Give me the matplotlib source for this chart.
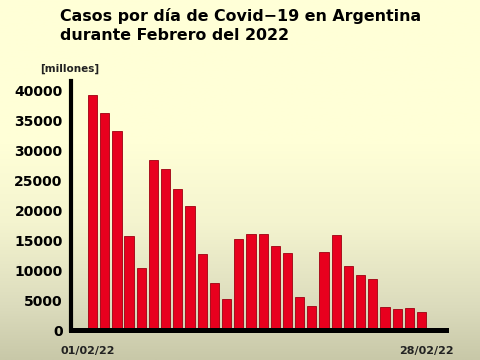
import numpy as np
import matplotlib
matplotlib.use("Agg")
from matplotlib import pyplot as plt
from matplotlib.colors import LinearSegmentedColormap
from matplotlib.transforms import ScaledTranslation

# Daily cases, February 2022
days = list(range(1, 29))
cases = [39300, 36300, 33300, 15700, 10400, 28400, 27000, 23600, 20800, 12800,
         8000, 5200, 15300, 16100, 16100, 14100, 13000, 5500, 4100, 13100,
         16000, 10700, 9300, 8600, 3900, 3600, 3700, 3100]
y_ticks = [0, 5000, 10000, 15000, 20000, 25000, 30000, 35000, 40000]
x_tick_days = [1, 28]
x_tick_labels = ["01/02/22", "28/02/22"]

title = "Casos por día de Covid\u221219 en Argentina\ndurante Febrero del 2022"
unit_label = "[millones]"

fig = plt.figure(figsize=(4.81, 3.6), dpi=100)

# Background gradient (pale yellow fading to greyish olive at the bottom)
bg = fig.add_axes([0, 0, 1, 1], zorder=-10)
cmap = LinearSegmentedColormap.from_list(
    "bg", [(0.0, "#c8c8a8"), (0.15, "#dcdcbd"), (0.38, "#f4f4cf"),
           (0.6, "#ffffd7"), (1.0, "#ffffd7")])
grad = np.linspace(0, 1, 256).reshape(-1, 1)
bg.imshow(grad, aspect="auto", cmap=cmap, origin="lower", extent=[0, 1, 0, 1])
bg.set_axis_off()

ax = fig.add_axes([0.1476, 0.082, 0.7794, 0.693])
ax.patch.set_alpha(0)

x = np.array(days) - 1
ax.bar(x, cases, width=0.76, color="#e8001e", edgecolor="#9e0010", linewidth=0.6)

ax.set_xlim(-1.77, 29.0)
ax.set_ylim(0, 41600)

ax.set_yticks(y_ticks)
ax.set_yticklabels([str(v) for v in y_ticks], fontsize=10, fontweight="bold")
ax.set_xticks(np.array(x_tick_days) - 1)
ax.set_xticklabels(x_tick_labels, fontsize=8, fontweight="bold", color="#222222")
ax.tick_params(axis="both", length=0)
ax.tick_params(axis="y", pad=6)
ax.tick_params(axis="x", pad=11)

# nudge the two date labels a bit outward
offs = [-5, 5]
for lbl, dx in zip(ax.get_xticklabels(), offs):
    lbl.set_transform(lbl.get_transform() + ScaledTranslation(dx / 100, 0, fig.dpi_scale_trans))

for side in ["top", "right"]:
    ax.spines[side].set_visible(False)
ax.spines["left"].set_linewidth(3)
ax.spines["bottom"].set_linewidth(3.6)
ax.spines["left"].set_capstyle("projecting")
ax.spines["bottom"].set_capstyle("projecting")

fig.text(70 / 481, 1 - 69 / 360, unit_label, fontsize=7.5, fontweight="bold",
         ha="center", va="center", color="#222222")

fig.text(60 / 481, 1 - 25.5 / 360, title, fontsize=11.4, fontweight="bold",
         ha="left", va="center", linespacing=1.25)

fig.savefig("out.png", dpi=100)
